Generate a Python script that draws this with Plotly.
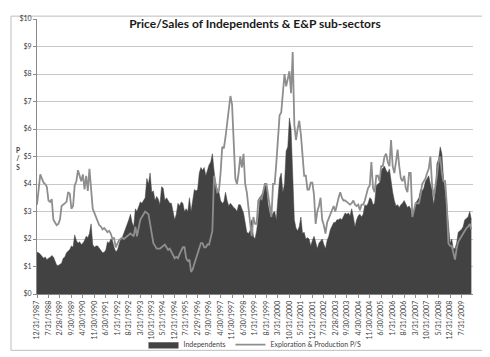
import plotly.graph_objects as go

tick_labels = ["12/31/1987", "7/31/1988", "2/28/1989", "9/30/1989", "4/30/1990", "11/30/1990",
               "6/30/1991", "1/31/1992", "8/31/1992", "3/31/1993", "10/31/1993", "5/31/1994",
               "12/31/1994", "7/31/1995", "2/29/1996", "9/30/1996", "4/30/1997", "11/30/1997",
               "6/30/1998", "1/31/1999", "8/31/1999", "3/31/2000", "10/31/2000", "5/31/2001",
               "12/31/2001", "7/31/2002", "2/28/2003", "9/30/2003", "4/30/2004", "11/30/2004",
               "6/30/2005", "1/31/2006", "8/31/2006", "3/31/2007", "10/31/2007", "5/31/2008",
               "12/31/2008", "7/31/2009"]

# monthly values, Dec 1987 .. Jan 2010
independents = [
    1.52, 1.50, 1.45, 1.38, 1.30, 1.35, 1.25, 1.30, 1.33, 1.40,
    1.35, 1.20, 1.05, 1.04, 1.08, 1.12, 1.30, 1.35, 1.50, 1.55,
    1.62, 1.75, 1.70, 2.15, 1.95, 1.85, 1.90, 1.80, 1.85, 1.95,
    2.10, 2.05, 2.20, 2.55, 1.80, 1.70, 1.75, 1.75, 1.65, 1.60,
    1.50, 1.52, 1.60, 1.90, 1.85, 2.00, 1.95, 1.70, 1.55, 1.58,
    1.80, 2.00, 2.05, 2.20, 2.40, 2.55, 2.70, 2.90, 2.60, 2.45,
    3.10, 3.00, 3.20, 3.35, 3.30, 3.40, 3.50, 4.20, 4.00, 4.40,
    3.70, 3.75, 3.40, 3.55, 3.45, 3.25, 3.90, 3.85, 3.40, 3.50,
    3.40, 3.30, 3.30, 3.00, 2.70, 2.90, 3.30, 3.20, 3.35, 3.30,
    3.00, 3.10, 3.00, 3.50, 3.00, 3.40, 3.80, 3.75, 3.80, 4.40,
    4.60, 4.50, 4.60, 4.30, 4.50, 4.70, 4.80, 5.10, 4.50, 4.00,
    3.80, 3.70, 3.40, 3.30, 3.35, 3.70, 3.40, 3.20, 3.30, 3.20,
    3.15, 3.10, 3.00, 3.25, 3.25, 3.10, 2.95, 2.60, 2.25, 2.20,
    2.30, 2.70, 2.10, 2.00, 2.30, 2.80, 3.50, 3.60, 3.70, 3.95,
    3.90, 3.25, 2.95, 2.80, 2.95, 3.00, 2.70, 3.50, 4.20, 4.40,
    3.70, 4.00, 5.20, 5.35, 6.40, 6.00, 4.40, 2.70, 2.40, 2.30,
    2.45, 2.80, 2.20, 2.25, 2.00, 2.05, 2.00, 1.75, 1.95, 2.10,
    1.90, 1.65, 1.85, 1.95, 2.00, 1.80, 1.65, 1.95, 2.10, 2.35,
    2.50, 2.60, 2.60, 2.70, 2.70, 2.75, 2.70, 2.85, 2.95, 2.90,
    2.95, 2.85, 3.10, 2.80, 2.45, 2.70, 2.85, 2.90, 2.80, 2.90,
    3.25, 3.20, 3.30, 3.50, 3.45, 3.25, 3.30, 3.95, 4.00, 4.05,
    4.50, 4.60, 4.65, 4.50, 4.40, 4.55, 4.00, 3.70, 3.40, 3.20,
    3.25, 3.15, 3.25, 3.30, 3.40, 3.30, 3.15, 3.20, 3.10, 2.80,
    3.10, 3.30, 3.40, 3.50, 3.80, 3.75, 3.85, 4.10, 4.20, 4.30,
    4.00, 3.80, 3.25, 3.70, 4.75, 4.90, 5.35, 5.10, 4.20, 3.75,
    3.25, 2.55, 1.85, 2.00, 1.65, 1.65, 1.85, 2.25, 2.30, 2.35,
    2.45, 2.70, 2.75, 2.80, 3.00, 2.70,
]

exploration_production = [
    3.25, 3.95, 4.35, 4.20, 4.05, 4.00, 3.90, 3.40, 3.35, 3.45,
    2.70, 2.60, 2.50, 2.55, 2.70, 3.20, 3.25, 3.30, 3.35, 3.70,
    3.65, 3.10, 3.20, 3.95, 4.10, 4.50, 4.30, 4.10, 4.35, 3.80,
    4.30, 3.75, 4.55, 3.70, 3.10, 2.95, 2.80, 2.70, 2.50, 2.45,
    2.35, 2.40, 2.30, 2.25, 2.30, 2.20, 2.00, 2.05, 1.70, 1.85,
    1.95, 2.00, 2.05, 2.00, 2.05, 2.10, 2.15, 2.20, 2.15, 2.10,
    2.45, 2.10, 2.40, 2.70, 2.80, 2.90, 3.00, 2.95, 2.90, 2.55,
    2.20, 1.85, 1.75, 1.65, 1.65, 1.65, 1.70, 1.75, 1.80, 1.70,
    1.60, 1.65, 1.55, 1.45, 1.30, 1.35, 1.30, 1.45, 1.55, 1.70,
    1.70, 1.30, 1.20, 1.25, 0.80, 0.90, 1.10, 1.30, 1.45, 1.65,
    1.85, 1.85, 1.70, 1.70, 1.80, 1.80, 2.10, 2.30, 4.30, 4.00,
    3.70, 3.75, 4.40, 5.35, 5.30, 5.70, 6.20, 6.75, 7.20, 6.90,
    5.80, 4.20, 4.00, 4.40, 5.00, 4.60, 5.10, 4.00, 3.70, 3.00,
    2.60, 2.10, 2.80, 2.55, 2.55, 3.40, 3.50, 3.45, 3.70, 4.00,
    4.00, 3.60, 3.25, 2.80, 4.00, 4.00, 4.75, 5.60, 6.50, 6.60,
    7.20, 8.00, 7.55, 7.80, 8.10, 7.30, 8.80, 6.15, 5.60, 6.00,
    6.30, 5.80, 5.10, 4.30, 4.30, 3.80, 3.80, 4.05, 4.05, 3.60,
    2.55, 3.00, 3.20, 3.50, 2.70, 2.50, 2.20, 2.60, 2.75, 2.90,
    3.10, 3.20, 3.00, 3.30, 3.50, 3.70, 3.50, 3.40, 3.40, 3.35,
    3.30, 3.25, 3.30, 3.40, 3.25, 3.20, 3.25, 3.05, 3.25, 3.25,
    3.40, 3.60, 3.85, 3.95, 4.80, 3.85, 3.70, 4.30, 4.30, 4.10,
    4.65, 4.65, 5.00, 5.10, 4.80, 4.65, 5.60, 4.65, 4.40, 4.80,
    5.25, 4.65, 4.20, 4.10, 4.30, 3.85, 3.70, 4.40, 4.40, 2.80,
    3.05, 3.30, 3.30, 3.30, 3.60, 4.00, 4.10, 4.20, 4.40, 4.55,
    5.00, 4.00, 3.50, 3.85, 4.30, 4.80, 5.00, 4.40, 4.10, 4.10,
    3.25, 1.85, 1.75, 1.75, 1.50, 1.25, 1.65, 1.90, 2.00, 2.10,
    2.20, 2.35, 2.40, 2.45, 2.55, 2.35,
]

y_ticks = list(range(0, 11))
y_tick_text = ["$" + str(v) for v in y_ticks]

idx = list(range(len(independents)))
tick_pos = [7 * k for k in range(len(tick_labels))]

FONT = "Lato, 'Open Sans', sans-serif"

fig = go.Figure()
fig.add_trace(go.Scatter(
    x=idx, y=independents, name="Independents", mode="lines",
    line=dict(color="#424242", width=0.5), fill="tozeroy", fillcolor="#424242",
))
fig.add_trace(go.Scatter(
    x=list(range(len(exploration_production))), y=exploration_production,
    name="Exploration & Production P/S", mode="lines",
    line=dict(color="#8e8e8e", width=1.8),
))

fig.update_layout(
    width=490, height=357,
    margin=dict(l=29, r=25, t=6, b=63),
    paper_bgcolor="white", plot_bgcolor="white",
    font=dict(family=FONT, size=7, color="#404040"),
    title=dict(text="<b>Price/Sales of Independents & E&P sub-sectors</b>",
               x=0.5, xref="paper", xanchor="center",
               y=1 - 16 / 357, yref="container", yanchor="middle",
               font=dict(family=FONT, size=12, color="#1a1a1a")),
    showlegend=True,
    legend=dict(orientation="h", x=0.5, xanchor="center", y=-0.184, yanchor="middle",
                font=dict(size=7, color="#404040"), bgcolor="rgba(0,0,0,0)",
                itemwidth=30, tracegroupgap=0),
    xaxis=dict(range=[0, 266], tickmode="array", tickvals=tick_pos, ticktext=tick_labels,
               tickangle=-90, showgrid=False, zeroline=False,
               showline=True, linecolor="#8a8a8a", linewidth=1,
               ticks="outside", ticklen=3, tickcolor="#8a8a8a",
               tickfont=dict(size=7, color="#404040")),
    yaxis=dict(range=[0, 10], tickmode="array", tickvals=y_ticks, ticktext=y_tick_text,
               showgrid=True, gridcolor="#c8c8c8", gridwidth=1, zeroline=False,
               showline=True, linecolor="#8a8a8a", linewidth=1,
               ticks="outside", ticklen=3, tickcolor="#8a8a8a",
               tickfont=dict(size=7, color="#404040")),
)

# y-axis title stacked letters
fig.add_annotation(text="<b>P</b><br><b>/</b><br><b>S</b>", xref="paper", yref="paper",
                   x=(10 - 29) / 436, y=(294 - 153) / 288, showarrow=False,
                   xanchor="center", yanchor="middle",
                   font=dict(size=6.5, color="#404040"))

# outer chart border
fig.add_shape(type="rect", xref="paper", yref="paper",
              x0=(3 - 29) / 436, x1=(486 - 29) / 436,
              y0=(294 - 353) / 288, y1=(294 - 3) / 288,
              line=dict(color="#bdbdbd", width=1), fillcolor="rgba(0,0,0,0)", layer="below")

fig.write_html("out.html")
